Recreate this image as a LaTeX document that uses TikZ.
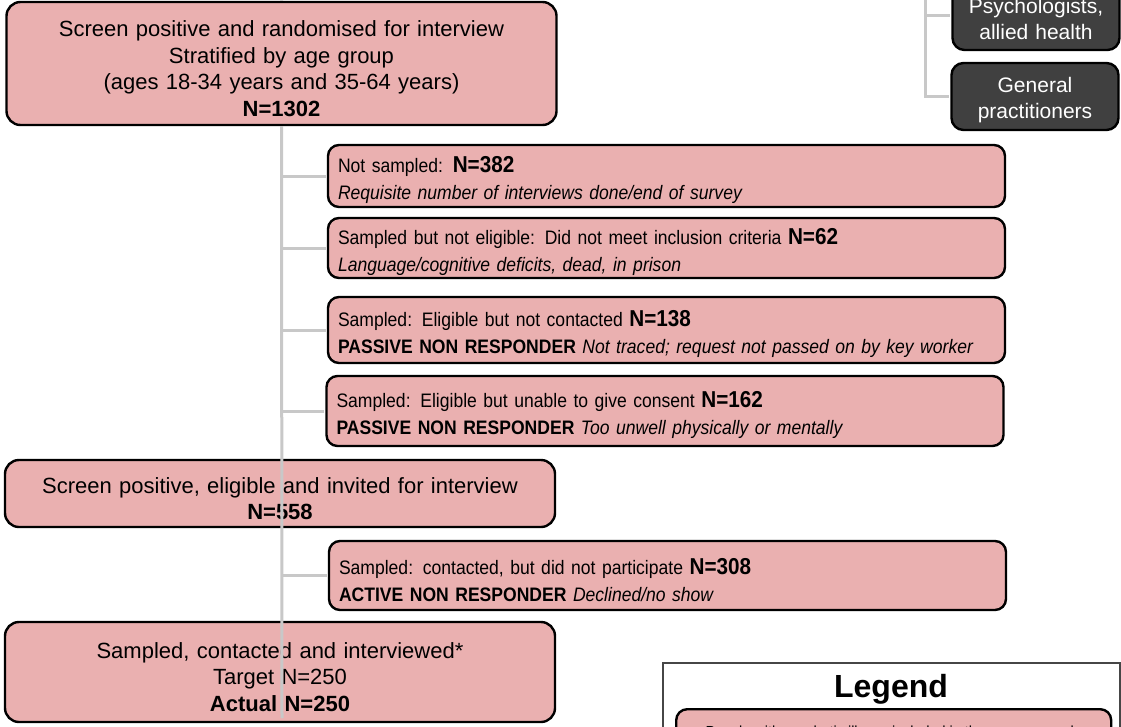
\documentclass[tikz,border=0pt]{standalone}
\usepackage{fontspec}
\setmainfont{Liberation Sans}
\newfontfamily\narrowfont[FakeStretch=0.9]{Liberation Sans}
\definecolor{boxpink}{RGB}{234,176,176}
\definecolor{boxdark}{RGB}{64,64,64}
\definecolor{linkgrey}{RGB}{200,200,200}
\definecolor{framegrey}{RGB}{70,70,70}
\tikzset{
	mainbox/.style={draw=black, line width=2.4pt, fill=boxpink, rounded corners=14pt,
		minimum width=550pt, text width=540pt, align=center, inner sep=0pt,
		font=\fontsize{22}{26.5}\selectfont,
		execute at begin node={\rule{0pt}{26pt}}},
	sidebox/.style={draw=black, line width=2.4pt, fill=boxpink, rounded corners=11pt,
		minimum width=677pt, text width=657pt, align=left, inner sep=0pt,
		font=\narrowfont\fontsize{19.5}{27}\selectfont,
		execute at begin node={\rule{0pt}{25pt}}},
	darkbox/.style={draw=black, line width=2.4pt, fill=boxdark, text=white,
		rounded corners=12pt, minimum width=167pt, text width=160pt, align=center,
		inner sep=0pt, font=\fontsize{21}{26}\selectfont,
		execute at begin node={\rule{0pt}{23pt}}},
	link/.style={draw=linkgrey, line width=3pt},
}
\newcommand{\bign}[1]{\textbf{\fontsize{23}{27}\selectfont #1}}
\begin{document}
\begin{tikzpicture}[x=1pt, y=-1pt]
	\useasboundingbox (0,0) rectangle (1121,726);
	\fill[white] (0,0) rectangle (1121,726);
	\clip (0,0) rectangle (1121,726);
	% main column
	\node[mainbox, minimum height=123pt] (screen) at (281.5,63.5) {
		Screen positive and randomised for interview\\
		Stratified by age group\\
		(ages 18-34 years and 35-64 years)\\
		\textbf{N=1302}
	};
	\node[mainbox, minimum height=67pt] (invited) at (280,493.5) {
		Screen positive, eligible and invited for interview\\
		\textbf{N=558}
	};
	\node[mainbox, minimum height=100pt] (interviewed) at (280,672) {
		Sampled, contacted and interviewed*\\
		Target N=250\\
		\textbf{Actual N=250}
	};
	% side boxes
	\node[sidebox, minimum height=62pt] (notsampled) at (666.5,176) {
		Not sampled: \bign{N=382}\\
		\textit{Requisite number of interviews done/end of survey}
	};
	\node[sidebox, minimum height=60pt] (noteligible) at (666.5,248) {
		Sampled but not eligible: Did not meet inclusion criteria \bign{N=62}\\
		\textit{Language/cognitive deficits, dead, in prison}
	};
	\node[sidebox, minimum height=66pt] (notcontacted) at (666.5,330) {
		Sampled: Eligible but not contacted \bign{N=138}\\
		\textbf{PASSIVE NON RESPONDER} \textit{Not traced; request not passed on by key worker}
	};
	\node[sidebox, minimum height=70pt] (noconsent) at (665,411) {
		Sampled: Eligible but unable to give consent \bign{N=162}\\
		\textbf{PASSIVE NON RESPONDER} \textit{Too unwell physically or mentally}
	};
	\node[sidebox, minimum height=69pt] (declined) at (667.5,575.5) {
		Sampled: contacted, but did not participate \bign{N=308}\\
		\textbf{ACTIVE NON RESPONDER} \textit{Declined/no show}
	};
	% trunk and branches
	\coordinate (trunkstart) at (282,-10);
	\coordinate (trunkend) at (282,718);
	\draw[link] (trunkstart) -- (screen.north);
	\draw[link] (screen.south) -- (trunkend);
	\foreach \s in {notsampled, noteligible, notcontacted, noconsent, declined}
		\draw[link, shorten >=1.2pt] (screen.south |- \s.west) -- (\s.west);
	% clinician tree
	\node[darkbox, minimum height=70pt] (psych) at (1036,15) {Psychologists,\\allied health};
	\node[darkbox, minimum height=67pt] (gp) at (1035,96.5) {General\\practitioners};
	\coordinate (treetop) at (925,-10);
	\draw[link, shorten >=1.2pt] (treetop) |- (gp.west);
	\draw[link, shorten >=1.2pt] (treetop |- psych.west) -- (psych.west);
	% legend
	\node[draw=framegrey, line width=1.5pt, fill=white, anchor=north west,
		minimum width=457pt, minimum height=120pt] (legend) at (662,662) {};
	\node[font=\bfseries\fontsize{32}{34}\selectfont] (legendtitle) at (891,689) {Legend};
	\node[sidebox, text width=, align=center, anchor=north west, minimum width=435pt,
		minimum height=35pt, font=\narrowfont\fontsize{16}{20}\selectfont,
		execute at begin node={}]
		(legendpsych) at (675,708) {People with psychotic illness included in the survey sample};
\end{tikzpicture}
\end{document}
